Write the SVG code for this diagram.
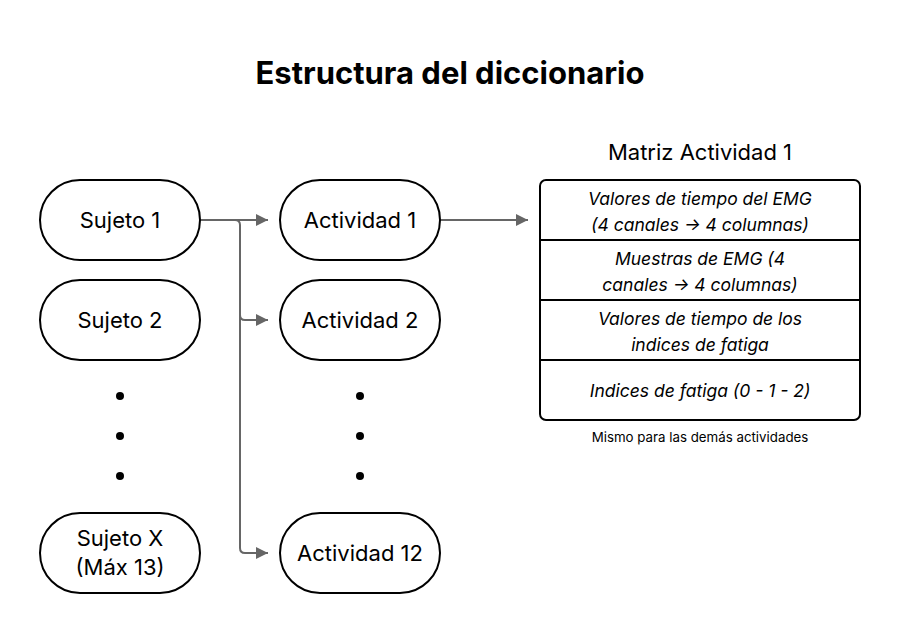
<svg xmlns="http://www.w3.org/2000/svg" width="900" height="633" viewBox="0 0 900 633">
<defs>
<marker id="arr" viewBox="0 0 10 10" refX="10" refY="5" markerWidth="14" markerHeight="12" markerUnits="userSpaceOnUse" orient="auto">
<path d="M0,0 L10,5 L0,10 z" fill="#666"/>
</marker>
<style>
.node{fill:#fff;stroke:#000;stroke-width:2}
.lbl{font-family:Inter,"Liberation Sans",sans-serif;font-size:22px;fill:#000;text-anchor:middle;dominant-baseline:central}
.cell{font-family:Inter,"Liberation Sans",sans-serif;font-size:17.5px;font-style:italic;fill:#000;text-anchor:middle;dominant-baseline:central}
.conn{fill:none;stroke:#666;stroke-width:2}
.dot{fill:#000}
</style>
</defs>
<rect width="900" height="633" fill="#fff"/>
<text x="450" y="72" font-family="Inter,'Liberation Sans',sans-serif" font-size="31" font-weight="bold" text-anchor="middle" dominant-baseline="central">Estructura del diccionario</text>

<g id="connectors">
<path class="conn" d="M200,220 H268" marker-end="url(#arr)"/>
<path class="conn" d="M200,220 H235 Q240,220 240,225 V315 Q240,320 245,320 H268" marker-end="url(#arr)"/>
<path class="conn" d="M240,315 V548 Q240,553 245,553 H268" marker-end="url(#arr)"/>
<path class="conn" d="M440,220 H528" marker-end="url(#arr)"/>
</g>

<g id="sujeto1"><rect class="node" x="40" y="180" width="160" height="80" rx="40"/><text class="lbl" x="120" y="220">Sujeto 1</text></g>
<g id="sujeto2"><rect class="node" x="40" y="280" width="160" height="80" rx="40"/><text class="lbl" x="120" y="320">Sujeto 2</text></g>
<g id="sujetoX"><rect class="node" x="40" y="513" width="160" height="80" rx="40"/><text class="lbl" x="120" y="538">Sujeto X</text><text class="lbl" x="120" y="567">(Máx 13)</text></g>
<g id="actividad1"><rect class="node" x="280" y="180" width="160" height="80" rx="40"/><text class="lbl" x="360" y="220">Actividad 1</text></g>
<g id="actividad2"><rect class="node" x="280" y="280" width="160" height="80" rx="40"/><text class="lbl" x="360" y="320">Actividad 2</text></g>
<g id="actividad12"><rect class="node" x="280" y="513" width="160" height="80" rx="40"/><text class="lbl" x="360" y="553">Actividad 12</text></g>

<g id="dots-left"><circle class="dot" cx="120" cy="396" r="4"/><circle class="dot" cx="120" cy="436" r="4"/><circle class="dot" cx="120" cy="476" r="4"/></g>
<g id="dots-right"><circle class="dot" cx="360" cy="396" r="4"/><circle class="dot" cx="360" cy="436" r="4"/><circle class="dot" cx="360" cy="476" r="4"/></g>

<g id="matriz">
<text x="700" y="152" font-family="Inter,'Liberation Sans',sans-serif" font-size="22" text-anchor="middle" dominant-baseline="central">Matriz Actividad 1</text>
<rect class="node" x="540" y="180" width="320" height="240" rx="6"/>
<line x1="540" y1="240" x2="860" y2="240" stroke="#000" stroke-width="2"/>
<line x1="540" y1="300" x2="860" y2="300" stroke="#000" stroke-width="2"/>
<line x1="540" y1="360" x2="860" y2="360" stroke="#000" stroke-width="2"/>
<text class="cell" x="700" y="198">Valores de tiempo del EMG</text>
<text class="cell" x="700" y="224">(4 canales → 4 columnas)</text>
<text class="cell" x="700" y="258">Muestras de EMG (4</text>
<text class="cell" x="700" y="284">canales → 4 columnas)</text>
<text class="cell" x="700" y="318">Valores de tiempo de los</text>
<text class="cell" x="700" y="344">indices de fatiga</text>
<text class="cell" x="700" y="390">Indices de fatiga (0 - 1 - 2)</text>
<text x="700" y="437" font-family="Inter,'Liberation Sans',sans-serif" font-size="13.3" text-anchor="middle" dominant-baseline="central">Mismo para las demás actividades</text>
</g>
</svg>
